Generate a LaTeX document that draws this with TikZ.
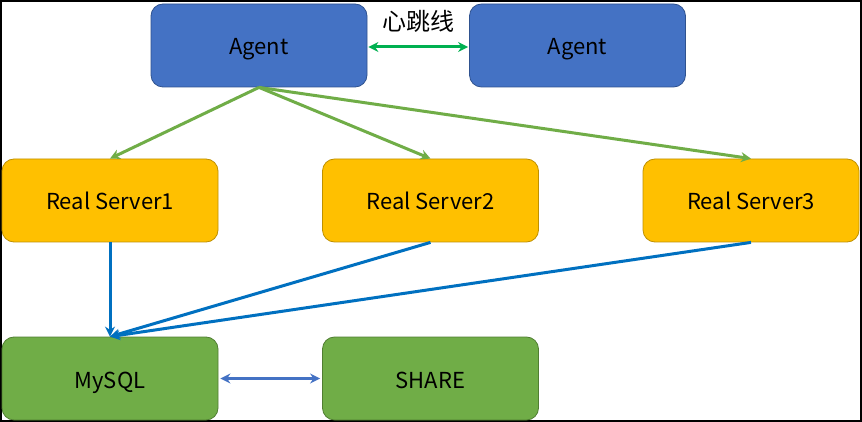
\documentclass[tikz,border=0pt]{standalone}
\usepackage{fontspec}
\setmainfont{Noto Sans CJK SC}
\usetikzlibrary{arrows.meta}
\definecolor{agentblue}{HTML}{4472C4}
\definecolor{agentedge}{HTML}{2F528F}
\definecolor{rsorange}{HTML}{FFC000}
\definecolor{rsedge}{HTML}{BF9000}
\definecolor{dbgreen}{HTML}{70AD47}
\definecolor{dbedge}{HTML}{507E32}
\definecolor{hbgreen}{HTML}{00B050}
\definecolor{linkblue}{HTML}{0070C0}
\tikzset{
  box/.style={rounded corners=12pt, minimum width=216pt, minimum height=83pt, inner sep=0pt, font=\fontsize{22}{26}\selectfont, text height=19pt, text depth=0pt, line width=0.8pt},
  agentbox/.style={box, fill=agentblue, draw=agentedge},
  rsbox/.style={box, fill=rsorange, draw=rsedge},
  dbbox/.style={box, fill=dbgreen, draw=dbedge},
  tip/.style={Stealth[length=10pt,width=10pt]},
  greenarrow/.style={draw=dbgreen, line width=3pt, -{Stealth[length=10pt,width=10pt]}},
  bluearrow/.style={draw=linkblue, line width=3pt, -{Stealth[length=10pt,width=10pt]}},
  hbarrow/.style={draw=hbgreen, line width=3pt, {Stealth[length=10pt,width=10pt]}-{Stealth[length=10pt,width=10pt]}},
  dbarrow/.style={draw=agentblue, line width=2.6pt, {Stealth[length=10pt,width=10pt]}-{Stealth[length=10pt,width=10pt]}},
}
\begin{document}
\begin{tikzpicture}[x=1pt,y=-1pt]
\path[use as bounding box] (0,0) rectangle (862,422);
\fill[white] (0,0) rectangle (862,422);
\draw[black, line width=2pt] (1,1) rectangle (861,421);
\node[agentbox] (a1) at (259,45.5) {Agent};
\node[agentbox] (a2) at (577.5,45.5) {Agent};
\node[rsbox] (r1) at (110,200.5) {Real Server1};
\node[rsbox] (r2) at (430.5,200.5) {Real Server2};
\node[rsbox] (r3) at (751,200.5) {Real Server3};
\node[dbbox] (m) at (110,378.5) {MySQL};
\node[dbbox] (s) at (430.5,378.5) {SHARE};
\node[font=\fontsize{24}{28}\selectfont] (hb) at (418,21) {心跳线};
\draw[hbarrow] ([xshift=1pt,yshift=-1.5pt]a1.east) -- ([xshift=-1pt,yshift=-1.5pt]a2.west);
\draw[greenarrow] (a1.south) -- (r1.north);
\draw[greenarrow] (a1.south) -- (r2.north);
\draw[greenarrow] (a1.south) -- (r3.north);
\draw[bluearrow] (r1.south) -- (m.north);
\draw[bluearrow] (r2.south) -- (m.north);
\draw[bluearrow] (r3.south) -- (m.north);
\draw[dbarrow] ([xshift=2pt]m.east) -- ([xshift=-2pt]s.west);
\end{tikzpicture}
\end{document}
